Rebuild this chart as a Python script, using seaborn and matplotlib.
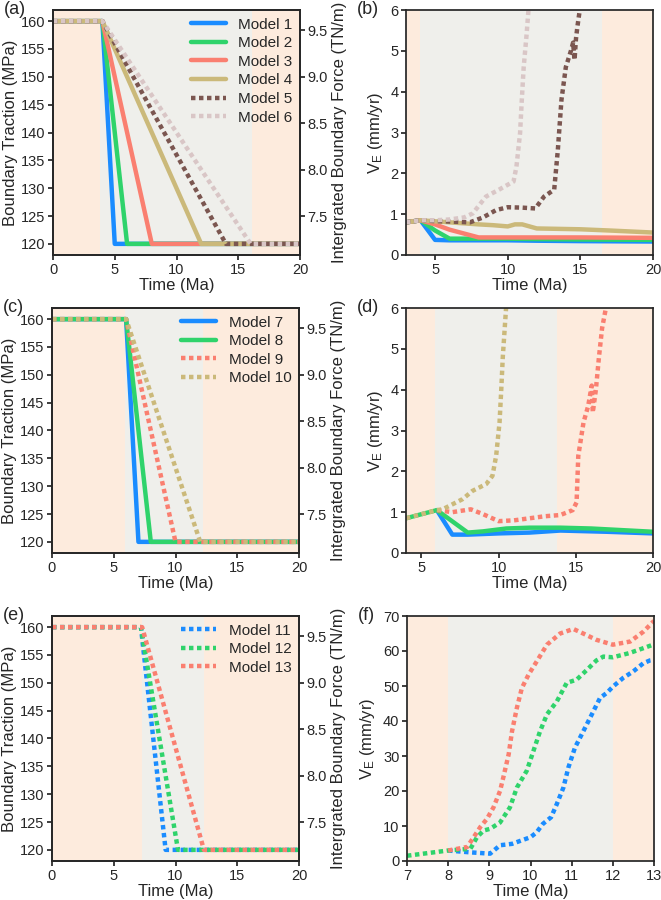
import matplotlib

matplotlib.use("Agg")

import matplotlib.pyplot as plt
import numpy as np
import pandas as pd
import seaborn as sns


sns.set_theme(style="ticks")
plt.rcParams["font.family"] = ["Liberation Sans", "DejaVu Sans"]
plt.rcParams["mathtext.fontset"] = "custom"
plt.rcParams["mathtext.rm"] = "Liberation Sans"
plt.rcParams["mathtext.it"] = "Liberation Sans:italic"

# ---- colours ----
C_BLUE = "#1a8cff"
C_GREEN = "#2fd36b"
C_SALMON = "#fa7f70"
C_TAN = "#cbb97a"
C_BROWN = "#7b5650"
C_PINK = "#d9c6c6"
BG_ORANGE = "#fdebdd"
BG_GRAY = "#efefeb"
DOT = (0, (1, 0.8))

# ---- panel (a): boundary traction, models 1-6 ----
trac_a_t = {
    "Model 1": [0, 4, 5, 20],
    "Model 2": [0, 4, 6, 20],
    "Model 3": [0, 4, 8, 20],
    "Model 4": [0, 4, 12, 20],
    "Model 5": [0, 4, 14, 20],
    "Model 6": [0, 4, 16, 20],
}
trac_a_v = [160, 160, 120, 120]

# ---- panel (b): V_E, models 1-6 ----
b1_t = [3, 4, 5, 6, 8, 10, 12, 15, 20]
b1_v = [0.8, 0.85, 0.37, 0.36, 0.36, 0.36, 0.35, 0.34, 0.33]
b2_t = [3, 4, 5, 6, 8, 10, 12, 15, 20]
b2_v = [0.8, 0.85, 0.6, 0.4, 0.4, 0.4, 0.39, 0.38, 0.37]
b3_t = [3, 4, 5, 6, 8, 10, 12, 15, 20]
b3_v = [0.8, 0.85, 0.75, 0.62, 0.43, 0.43, 0.43, 0.43, 0.42]
b4_t = [3, 4, 6, 8, 9, 10, 10.5, 11, 12, 15, 17, 20]
b4_v = [0.8, 0.85, 0.8, 0.75, 0.73, 0.7, 0.75, 0.75, 0.65, 0.63, 0.6, 0.55]
b5_t = [3, 4, 5, 6, 7.4, 8.3, 9.2, 10, 11, 11.9, 12.5, 13.2, 13.45, 13.7,
        14.0, 14.35, 14.5, 14.6, 14.7, 14.8, 15.0]
b5_v = [0.8, 0.85, 0.83, 0.82, 0.8, 0.92, 1.1, 1.17, 1.16, 1.14, 1.43, 1.6,
        2.57, 3.8, 4.6, 5.0, 5.2, 4.78, 5.3, 5.6, 6.1]
b6_t = [3, 4, 5, 6, 7, 7.6, 8.5, 9.4, 10.4, 10.6, 10.85, 10.97, 11.1, 11.3, 11.45]
b6_v = [0.8, 0.85, 0.85, 0.87, 0.92, 1.02, 1.43, 1.6, 1.8, 2.16, 2.98, 3.8,
        4.6, 5.4, 6.1]

# ---- panel (c): boundary traction, models 7-10 ----
trac_c_t = {
    "Model 7": [0, 6, 7, 20],
    "Model 8": [0, 6, 8, 20],
    "Model 9": [0, 6, 10, 20],
    "Model 10": [0, 6, 12, 20],
}
trac_c_v = [160, 160, 120, 120]

# ---- panel (d): V_E, models 7-10 ----
d7_t = [6, 7, 8, 10, 12, 14, 17, 20]
d7_v = [1.05, 0.45, 0.45, 0.48, 0.5, 0.55, 0.52, 0.48]
d8_t = [4, 5, 6, 8, 9, 10.5, 12, 14, 16, 20]
d8_v = [0.85, 0.95, 1.05, 0.5, 0.53, 0.6, 0.62, 0.62, 0.6, 0.52]
d9_t = [6, 7, 8.2, 9, 10, 11, 12, 13, 14, 14.8, 15.05, 15.16, 15.5, 15.8,
        16.03, 16.1, 16.3, 16.5, 16.7, 17.0]
d9_v = [1.05, 1.0, 1.07, 0.95, 0.78, 0.8, 0.85, 0.9, 0.93, 1.05, 1.24, 2.38,
        3.2, 3.6, 4.1, 3.44, 4.0, 4.8, 5.5, 6.1]
d10_t = [4, 5, 6, 6.37, 7.67, 8.3, 9.2, 9.6, 9.84, 10.06, 10.17, 10.27, 10.5]
d10_v = [0.85, 0.95, 1.05, 1.07, 1.32, 1.52, 1.69, 1.89, 2.38, 3.2, 4.0, 4.8, 6.1]

# ---- panel (e): boundary traction, models 11-13 ----
trac_e_t = {
    "Model 11": [0, 7.2, 9.2, 20],
    "Model 12": [0, 7.2, 10.2, 20],
    "Model 13": [0, 7.3, 12.3, 20],
}
trac_e_v = [160, 160, 120, 120]

# ---- panel (f): V_E, models 11-13 ----
f11_t = [8, 8.5, 9.02, 9.26, 9.55, 10, 10.15, 10.3, 10.5, 10.64, 10.8, 10.92,
         11.08, 11.28, 11.49, 11.69, 11.85, 12.01, 12.25, 12.5, 12.74, 12.9, 13]
f11_v = [3, 2.5, 2.1, 4.5, 4.9, 6.8, 8.2, 10.6, 12.5, 16.3, 21, 26.7, 32.4, 37,
         41.9, 46.6, 48, 49.9, 52.3, 54.2, 56.5, 57.3, 57.5]
f12_t = [7, 8, 8.54, 8.7, 8.86, 9.02, 9.26, 9.5, 9.67, 9.91, 10.07, 10.23, 10.4,
         10.64, 10.88, 11.12, 11.37, 11.6, 11.77, 12, 12.4, 12.74, 13]
f12_v = [1.5, 3, 3.5, 6.8, 8.7, 9.2, 11, 15.3, 21, 25.8, 31.4, 37, 41.9, 45.6,
         50.9, 51.8, 54.6, 57.3, 58.4, 58.2, 59.4, 60.8, 61.9]
f13_t = [8, 8.46, 8.62, 8.78, 8.94, 9.1, 9.26, 9.34, 9.47, 9.55, 9.67, 9.79,
         9.95, 10.15, 10.4, 10.72, 11.04, 11.28, 11.6, 12, 12.42, 12.74, 13]
f13_v = [3, 4, 6.8, 9.7, 12, 15.3, 20, 23.9, 30.5, 37, 43.8, 49.4, 53.2, 57,
         61.8, 65, 66.3, 65, 63.2, 61.8, 62.7, 65.5, 68.6]

# ---- shaded phases (start, end) of the middle grey band ----
band_a = (3.8, 16.1)
band_b = (3.95, 16.5)
band_c = (5.9, 12.25)
band_d = (5.85, 13.75)
band_e = (7.3, 12.3)
band_f = (8.0, 12.0)

FORCE_SCALE = 0.06  # MPa -> TN/m over 60 km


def shade(ax, band, xlim):
    ax.axvspan(xlim[0], xlim[1], color=BG_ORANGE, lw=0, zorder=0)
    ax.axvspan(band[0], band[1], color=BG_GRAY, lw=0, zorder=0)


def line(ax, t, v, color, dotted=False, label=None):
    df = pd.DataFrame({"t": t, "v": v})
    sns.lineplot(data=df, x="t", y="v", ax=ax, color=color, lw=3.2,
                 linestyle=DOT if dotted else "-", label=label,
                 estimator=None, sort=False, legend=False)


def traction_panel(ax, t_dict, v, colors, dotted, band, tag):
    xlim = (0, 20)
    shade(ax, band, xlim)
    for (name, t), c, d in zip(t_dict.items(), colors, dotted):
        line(ax, t, v, c, d, name)
    ax.set_xlim(*xlim)
    ax.set_ylim(118, 162)
    ax.set_yticks([120, 125, 130, 135, 140, 145, 150, 155, 160])
    ax.set_xticks([0, 5, 10, 15, 20])
    ax.set_xlabel("Time (Ma)", fontsize=12, labelpad=1)
    ax.set_ylabel("Boundary Traction (MPa)", fontsize=12, labelpad=2)
    ax.tick_params(labelsize=10.5, length=3.5, pad=2)
    leg = ax.legend(loc="upper right", frameon=False, fontsize=11,
                    handlelength=2.3, labelspacing=0.3, borderaxespad=0.2,
                    borderpad=0.3)
    ax2 = ax.twinx()
    lo, hi = ax.get_ylim()
    ax2.set_ylim(lo * FORCE_SCALE, hi * FORCE_SCALE)
    ax2.set_yticks([7.5, 8.0, 8.5, 9.0, 9.5])
    ax2.set_yticklabels(["7.5", "8.0", "8.5", "9.0", "9.5"])
    ax2.set_ylabel("Intergrated Boundary Force (TN/m)", fontsize=12, labelpad=3)
    ax2.tick_params(labelsize=10.5, length=3.5, pad=2)
    ax.text(-0.2, 1.0, tag, transform=ax.transAxes, fontsize=13, va="center")
    return leg


def ve_panel(ax, series, xlim, ylim, yticks, xticks, band, tag):
    shade(ax, band, xlim)
    for t, v, c, d in series:
        line(ax, t, v, c, d)
    ax.set_xlim(*xlim)
    ax.set_ylim(*ylim)
    ax.set_yticks(yticks)
    ax.set_xticks(xticks)
    ax.set_xlabel("Time (Ma)", fontsize=12, labelpad=1)
    ax.set_ylabel(r"V$_\mathrm{E}$ (mm/yr)", fontsize=12, labelpad=4)
    ax.tick_params(labelsize=10.5, length=3.5, pad=2)
    ax.text(-0.2, 1.0, tag, transform=ax.transAxes, fontsize=13, va="center")


fig = plt.figure(figsize=(6.61, 9.0), dpi=100)
W, H = 247 / 661, 245 / 900
ax_a = fig.add_axes([53 / 661, 1 - 255 / 900, W, H])
ax_b = fig.add_axes([406 / 661, 1 - 255 / 900, W, H])
ax_c = fig.add_axes([52 / 661, 1 - 553 / 900, W, H])
ax_d = fig.add_axes([406 / 661, 1 - 553 / 900, W, H])
ax_e = fig.add_axes([52 / 661, 1 - 861 / 900, W, H])
ax_f = fig.add_axes([407 / 661, 1 - 861 / 900, W, H])

traction_panel(ax_a, trac_a_t, trac_a_v,
               [C_BLUE, C_GREEN, C_SALMON, C_TAN, C_BROWN, C_PINK],
               [False, False, False, False, True, True], band_a, "(a)")
traction_panel(ax_c, trac_c_t, trac_c_v,
               [C_BLUE, C_GREEN, C_SALMON, C_TAN],
               [False, False, True, True], band_c, "(c)")
traction_panel(ax_e, trac_e_t, trac_e_v,
               [C_BLUE, C_GREEN, C_SALMON],
               [True, True, True], band_e, "(e)")

ve_panel(ax_b, [(b1_t, b1_v, C_BLUE, False), (b2_t, b2_v, C_GREEN, False),
                (b3_t, b3_v, C_SALMON, False), (b4_t, b4_v, C_TAN, False),
                (b5_t, b5_v, C_BROWN, True), (b6_t, b6_v, C_PINK, True)],
         (3, 20), (0, 6), [0, 1, 2, 3, 4, 5, 6], [5, 10, 15, 20], band_b, "(b)")
ve_panel(ax_d, [(d7_t, d7_v, C_BLUE, False), (d8_t, d8_v, C_GREEN, False),
                (d9_t, d9_v, C_SALMON, True), (d10_t, d10_v, C_TAN, True)],
         (4, 20), (0, 6), [0, 1, 2, 3, 4, 5, 6], [5, 10, 15, 20], band_d, "(d)")
ve_panel(ax_f, [(f11_t, f11_v, C_BLUE, True), (f12_t, f12_v, C_GREEN, True),
                (f13_t, f13_v, C_SALMON, True)],
         (7, 13), (0, 70), [0, 10, 20, 30, 40, 50, 60, 70],
         [7, 8, 9, 10, 11, 12, 13], band_f, "(f)")

fig.savefig("out.png", dpi=100)
